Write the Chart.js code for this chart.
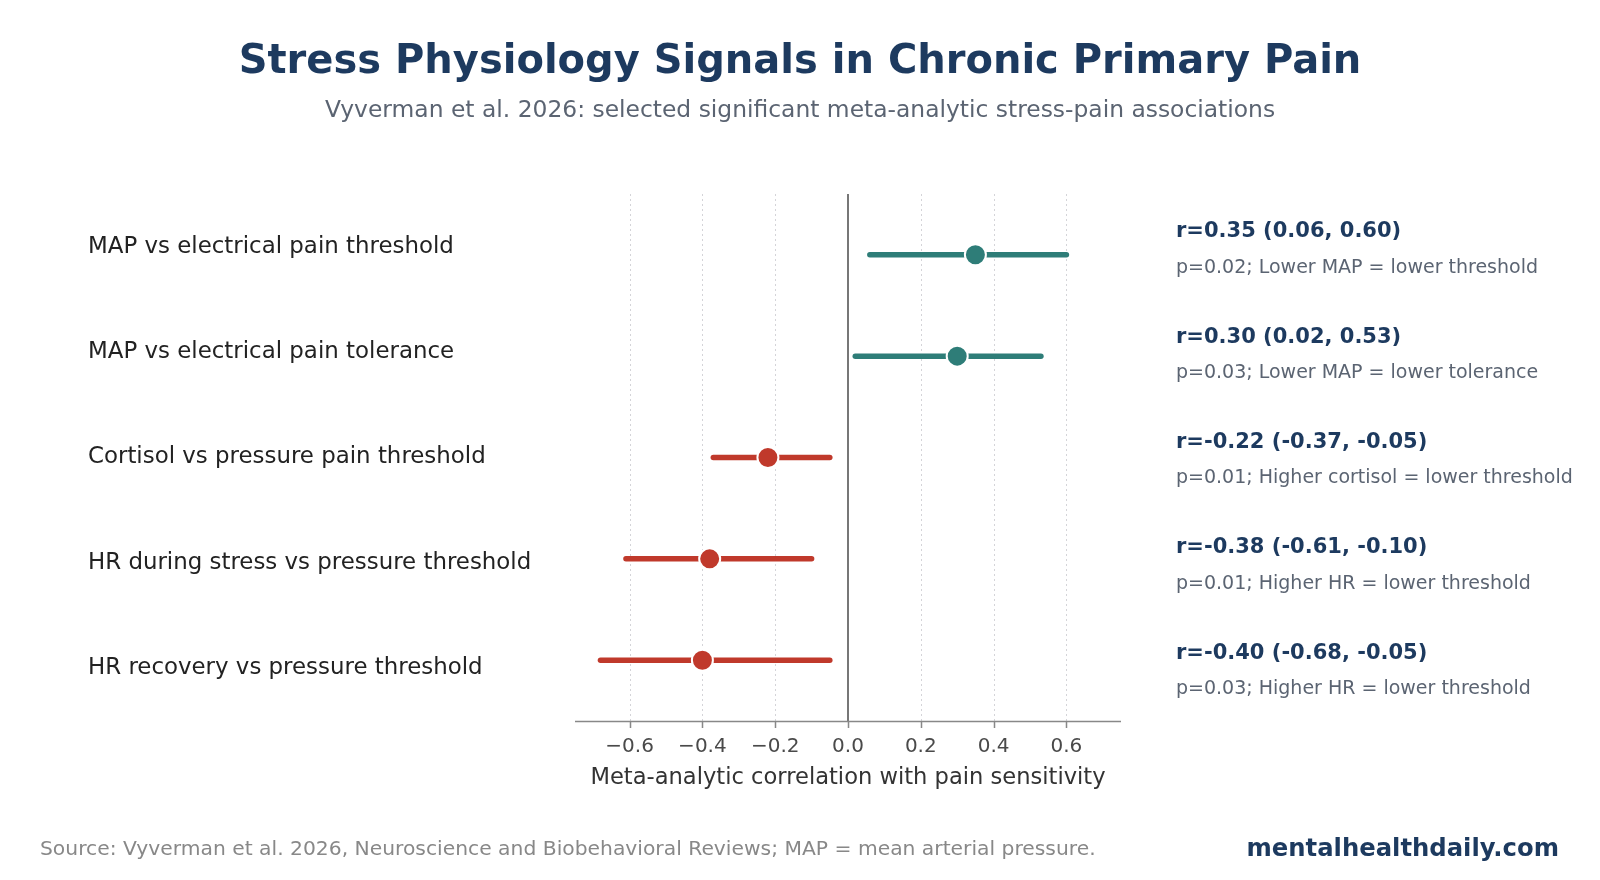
<!DOCTYPE html>
<html>
<head>
<meta charset="utf-8">
<script src="https://cdn.jsdelivr.net/npm/chart.js@4.4.1/dist/chart.umd.min.js"></script>
<style>
  html, body { margin: 0; padding: 0; background: #fff; }
  canvas { display: block; }
</style>
</head>
<body>
<canvas id="chart" width="1600" height="880"></canvas>
<script>
const rowLabels = [
  "MAP vs electrical pain threshold",
  "MAP vs electrical pain tolerance",
  "Cortisol vs pressure pain threshold",
  "HR during stress vs pressure threshold",
  "HR recovery vs pressure threshold"
]
const estimates = [0.35, 0.30, -0.22, -0.38, -0.40]
const lowerCI = [0.06, 0.02, -0.37, -0.61, -0.68]
const upperCI = [0.60, 0.53, -0.05, -0.10, -0.05]
const pValues = ["0.02", "0.03", "0.01", "0.01", "0.03"]
const notes = [
  "Lower MAP = lower threshold",
  "Lower MAP = lower tolerance",
  "Higher cortisol = lower threshold",
  "Higher HR = lower threshold",
  "Higher HR = lower threshold"
]
const xTicks = [-0.6, -0.4, -0.2, 0.0, 0.2, 0.4, 0.6]

const FONT = "'DejaVu Sans', sans-serif"
const NAVY = "#1d3a5f"
const TEAL = "#2e7d78"
const RED = "#c0392b"

const colorFor = (v) => (v >= 0 ? TEAL : RED)

function fmtTick(v) {
  if (Math.abs(v) < 1e-9) return "0.0"
  return v.toFixed(1).replace("-", "\u2212")
}

const ciDatasets = rowLabels.map((label, i) => ({
  type: "line",
  label,
  data: [{ x: lowerCI[i], y: i }, { x: upperCI[i], y: i }],
  showLine: true,
  borderColor: colorFor(estimates[i]),
  borderWidth: 5.5,
  borderCapStyle: "round",
  pointRadius: 0,
  order: 1
}))

const pointDataset = {
  type: "scatter",
  label: "estimate",
  data: estimates.map((v, i) => ({ x: v, y: i })),
  pointRadius: 10.5,
  pointBackgroundColor: estimates.map(colorFor),
  pointBorderColor: "#ffffff",
  pointBorderWidth: 2,
  order: 0
}

const decorations = {
  id: "decorations",
  beforeDatasetsDraw(chart) {
    const { ctx, chartArea, scales } = chart
    const x = scales.x
    ctx.save()
    ctx.strokeStyle = "#d4d4d8"
    ctx.lineWidth = 1
    ctx.setLineDash([2, 3])
    xTicks.forEach((v) => {
      if (Math.abs(v) < 1e-9) return
      const px = Math.round(x.getPixelForValue(v)) + 0.5
      ctx.beginPath()
      ctx.moveTo(px, chartArea.top)
      ctx.lineTo(px, chartArea.bottom)
      ctx.stroke()
    })
    ctx.setLineDash([])
    ctx.strokeStyle = "#777777"
    ctx.lineWidth = 2
    const zx = Math.round(x.getPixelForValue(0))
    ctx.beginPath()
    ctx.moveTo(zx, chartArea.top)
    ctx.lineTo(zx, chartArea.bottom)
    ctx.stroke()
    // bottom axis and tick marks
    ctx.strokeStyle = "#888888"
    ctx.lineWidth = 1.5
    ctx.beginPath()
    ctx.moveTo(chartArea.left, chartArea.bottom + 0.5)
    ctx.lineTo(chartArea.right, chartArea.bottom + 0.5)
    xTicks.forEach((v) => {
      const px = Math.round(x.getPixelForValue(v)) + 0.5
      ctx.moveTo(px, chartArea.bottom)
      ctx.lineTo(px, chartArea.bottom + 7)
    })
    ctx.stroke()
    ctx.restore()
  },
  afterDraw(chart) {
    const { ctx, chartArea, width } = chart
    ctx.save()
    ctx.textBaseline = "middle"

    ctx.textAlign = "center"
    ctx.fillStyle = NAVY
    ctx.font = `bold 40px ${FONT}`
    ctx.fillText("Stress Physiology Signals in Chronic Primary Pain", width / 2, 63)
    ctx.fillStyle = "#5b6472"
    ctx.font = `23.4px ${FONT}`
    ctx.fillText("Vyverman et al. 2026: selected significant meta-analytic stress-pain associations", width / 2, 111)

    ctx.fillStyle = "#333333"
    ctx.font = `22.6px ${FONT}`
    ctx.fillText("Meta-analytic correlation with pain sensitivity",
      (chartArea.left + chartArea.right) / 2, chartArea.bottom + 57)

    const band = (chartArea.bottom - chartArea.top) / rowLabels.length
    rowLabels.forEach((label, i) => {
      const cy = chartArea.top + band * (i + 0.5)
      ctx.textAlign = "left"
      ctx.fillStyle = "#222222"
      ctx.font = `22.9px ${FONT}`
      ctx.fillText(label, 88, cy)

      const rText = `r=${estimates[i].toFixed(2)} (${lowerCI[i].toFixed(2)}, ${upperCI[i].toFixed(2)})`
      ctx.fillStyle = NAVY
      ctx.font = `bold 21px ${FONT}`
      ctx.fillText(rText, 1176, cy - 15)
      ctx.fillStyle = "#5b6472"
      ctx.font = `19px ${FONT}`
      ctx.fillText(`p=${pValues[i]}; ${notes[i]}`, 1176, cy + 21)
    })

    ctx.textAlign = "left"
    ctx.fillStyle = "#888888"
    ctx.font = `20.3px ${FONT}`
    ctx.fillText("Source: Vyverman et al. 2026, Neuroscience and Biobehavioral Reviews; MAP = mean arterial pressure.", 40, 850)
    ctx.textAlign = "right"
    ctx.fillStyle = NAVY
    ctx.font = `bold 24.3px ${FONT}`
    ctx.fillText("mentalhealthdaily.com", 1559, 850)
    ctx.restore()
  }
}

new Chart(document.getElementById("chart"), {
  type: "scatter",
  data: { datasets: [...ciDatasets, pointDataset] },
  options: {
    responsive: false,
    animation: false,
    layout: { padding: { left: 575, right: 479, top: 194, bottom: 119 } },
    plugins: { legend: { display: false }, tooltip: { enabled: false } },
    scales: {
      x: {
        type: "linear",
        min: -0.75,
        max: 0.75,
        afterBuildTicks: (scale) => { scale.ticks = xTicks.map((v) => ({ value: v })) },
        afterFit: (scale) => { scale.height = 40 },
        grid: { display: false },
        border: { display: false },
        ticks: {
          padding: 6,
          color: "#4a4a4a",
          font: { family: FONT, size: 20 },
          callback: (v) => fmtTick(v)
        }
      },
      y: {
        type: "linear",
        min: -0.6,
        max: 4.6,
        reverse: true,
        display: false
      }
    }
  },
  plugins: [decorations]
})
</script>
</body>
</html>
